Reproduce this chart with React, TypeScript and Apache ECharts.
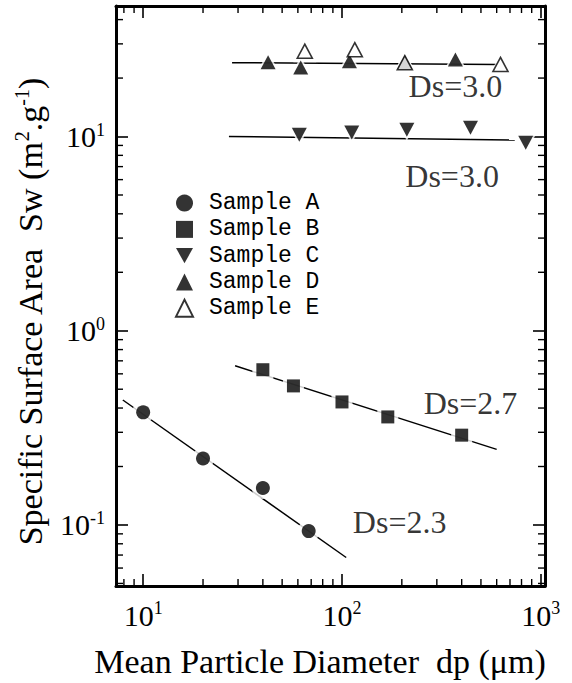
import React, { useEffect, useRef } from 'react';
import * as echarts from 'echarts';

// ---- axis extents (log axes) ----
const X_MIN = 7.3;
const X_MAX = 1050;
const Y_MIN = 0.0485;
const Y_MAX = 47;

// ---- measured points ----
const sampleAX = [10, 20, 40, 68];
const sampleAY = [0.38, 0.22, 0.155, 0.093];
const sampleBX = [40, 57, 100, 170, 400];
const sampleBY = [0.63, 0.52, 0.43, 0.36, 0.29];
const sampleCX = [61, 112, 212, 443, 840];
const sampleCY = [10.2, 10.5, 10.85, 11.1, 9.3];
const sampleDX = [42.5, 62, 109, 207, 372];
const sampleDY = [24.1, 22.7, 24.4, 24.1, 24.9];
const sampleEX = [65, 116, 207, 627];
const sampleEY = [27.5, 28, 24, 23.5];

// ---- fitted lines (end points) ----
const fitAX = [7.9, 105];
const fitAY = [0.44, 0.068];
const fitBX = [29, 600];
const fitBY = [0.66, 0.245];
const fitCX = [27, 740];
const fitCY = [10.0, 9.6];
const fitDX = [28, 600];
const fitDY = [24, 23.5];

// ---- annotations ----
const dsLabels = ['Ds=3.0', 'Ds=3.0', 'Ds=2.7', 'Ds=2.3'];
const dsX = [372, 358, 443, 195];
const dsY = [18.1, 6.3, 0.425, 0.1036];

// ---- legend names ----
const sampleNames = ['Sample A', 'Sample B', 'Sample C', 'Sample D', 'Sample E'];

// ---- titles ----
const xTitle = 'Mean Particle Diameter  dp (\u03bcm)';
const yTitleRich = '{n|Specific Surface Area  Sw (m}{s|2}{n|.g}{s|-1}{n|)}';

// ---- minor tick values ----
const xMinorTicks = [8, 9, 20, 30, 40, 50, 60, 70, 80, 90, 200, 300, 400, 500, 600, 700, 800, 900];
const yMinorTicks = [0.05, 0.06, 0.07, 0.08, 0.09, 0.2, 0.3, 0.4, 0.5, 0.6, 0.7, 0.8, 0.9, 2, 3, 4, 5, 6, 7, 8, 9, 20, 30, 40];

const SERIF = '"Liberation Serif", "Times New Roman", serif';
const MONO = '"Liberation Mono", "Courier New", monospace';
const DOWN_TRI = 'path://M0,0L20,0L10,18Z';

const zip = (xs: number[], ys: number[]) => xs.map((x, i) => [x, ys[i]]);

const powLabel = (v: number) => {
  const l = Math.log10(v);
  const e = Math.round(l);
  if (Math.abs(l - e) > 1e-6) return '';
  return `{b|10}{s|${e}}`;
};

const tickRich = {
  b: { fontSize: 30, fontFamily: SERIF, color: '#000', lineHeight: 32 },
  s: { fontSize: 18, fontFamily: SERIF, color: '#000', lineHeight: 21, verticalAlign: 'top' },
};

export default function App() {
  const ref = useRef<HTMLDivElement>(null);

  useEffect(() => {
    if (!ref.current) return;
    const chart = echarts.init(ref.current, undefined, { renderer: 'svg' });

    const axisLine = { show: true, lineStyle: { color: '#000', width: 3 } };
    const majorTick = { show: true, inside: true, length: 12, lineStyle: { color: '#000', width: 1.6 } };

    const lineSeries = (xs: number[], ys: number[]) => ({
      type: 'line',
      data: zip(xs, ys),
      symbol: 'none',
      lineStyle: { color: '#000', width: 1.5 },
      z: 2,
      silent: true,
    });

    const halo = (xs: number[], ys: number[], symbol: string, size: any) => ({
      type: 'scatter',
      data: zip(xs, ys),
      symbol,
      symbolSize: size,
      itemStyle: { color: '#fff' },
      z: 3,
      silent: true,
    });

    const marker = (name: string, xs: number[], ys: number[], symbol: string, size: any, itemStyle: any) => ({
      name,
      type: 'scatter',
      data: zip(xs, ys),
      symbol,
      symbolSize: size,
      itemStyle,
      z: 4,
    });

    const filled = { color: '#000' };
    const open = { color: '#fff', borderColor: '#000', borderWidth: 1.6 };

    const option: any = {
      animation: false,
      backgroundColor: '#fff',
      textStyle: { fontFamily: SERIF, color: '#000' },
      grid: { left: 116, right: 27, top: 6, bottom: 97 },
      xAxis: [
        {
          type: 'log', min: X_MIN, max: X_MAX, position: 'bottom',
          axisLine, axisTick: majorTick,
          axisLabel: { formatter: powLabel, rich: tickRich, margin: 13 },
          splitLine: { show: false },
        },
        {
          type: 'log', min: X_MIN, max: X_MAX, position: 'top',
          axisLine, axisTick: majorTick,
          axisLabel: { show: false },
          splitLine: { show: false },
        },
      ],
      yAxis: [
        {
          type: 'log', min: Y_MIN, max: Y_MAX, position: 'left',
          axisLine, axisTick: majorTick,
          axisLabel: { formatter: powLabel, rich: tickRich, margin: 11 },
          splitLine: { show: false },
        },
        {
          type: 'log', min: Y_MIN, max: Y_MAX, position: 'right',
          axisLine, axisTick: majorTick,
          axisLabel: { show: false },
          splitLine: { show: false },
        },
      ],
      legend: {
        orient: 'vertical',
        left: 170,
        top: 185,
        itemWidth: 17,
        itemHeight: 17,
        itemGap: 0,
        selectedMode: false,
        textStyle: { fontFamily: MONO, fontSize: 23, color: '#000', lineHeight: 26.25, padding: [0, 0, 0, 11] },
        data: sampleNames,
      },
      graphic: [
        {
          type: 'text',
          x: 320,
          y: 661,
          style: {
            text: xTitle,
            fontSize: 34,
            fontFamily: SERIF,
            fill: '#000',
            align: 'center',
            verticalAlign: 'middle',
          },
        },
        {
          type: 'text',
          x: 30,
          y: 312,
          rotation: Math.PI / 2,
          style: {
            text: yTitleRich,
            align: 'center',
            verticalAlign: 'middle',
            fill: '#000',
            rich: {
              n: { fontSize: 34, fontFamily: SERIF, fill: '#000', lineHeight: 36 },
              s: { fontSize: 20, fontFamily: SERIF, fill: '#000', lineHeight: 24, verticalAlign: 'top' },
            },
          },
        },
      ],
      series: [
        lineSeries(fitAX, fitAY),
        lineSeries(fitBX, fitBY),
        lineSeries(fitCX, fitCY),
        lineSeries(fitDX, fitDY),
        halo(sampleAX, sampleAY, 'circle', 22),
        halo(sampleBX, sampleBY, 'rect', 21),
        halo(sampleCX, sampleCY, DOWN_TRI, [23, 22]),
        halo(sampleDX, sampleDY, 'triangle', [23, 22]),
        halo(sampleEX, sampleEY, 'triangle', [23, 22]),
        marker(sampleNames[0], sampleAX, sampleAY, 'circle', 14, filled),
        marker(sampleNames[1], sampleBX, sampleBY, 'rect', 13, filled),
        marker(sampleNames[2], sampleCX, sampleCY, DOWN_TRI, [15, 14], filled),
        marker(sampleNames[3], sampleDX, sampleDY, 'triangle', [15, 14], filled),
        marker(sampleNames[4], sampleEX, sampleEY, 'triangle', [15, 14], open),
        {
          type: 'custom',
          silent: true,
          z: 5,
          data: xMinorTicks.map((v) => [v, Y_MIN]),
          renderItem: (_p: any, api: any) => {
            const v = api.value(0);
            const b = api.coord([v, Y_MIN]);
            const t = api.coord([v, Y_MAX]);
            const st = { stroke: '#000', lineWidth: 1.4 };
            return {
              type: 'group',
              children: [
                { type: 'line', shape: { x1: b[0], y1: b[1], x2: b[0], y2: b[1] - 7 }, style: st },
                { type: 'line', shape: { x1: t[0], y1: t[1], x2: t[0], y2: t[1] + 7 }, style: st },
              ],
            };
          },
        },
        {
          type: 'custom',
          silent: true,
          z: 5,
          data: yMinorTicks.map((v) => [X_MIN, v]),
          renderItem: (_p: any, api: any) => {
            const v = api.value(1);
            const l = api.coord([X_MIN, v]);
            const r = api.coord([X_MAX, v]);
            const st = { stroke: '#000', lineWidth: 1.4 };
            return {
              type: 'group',
              children: [
                { type: 'line', shape: { x1: l[0], y1: l[1], x2: l[0] + 7, y2: l[1] }, style: st },
                { type: 'line', shape: { x1: r[0], y1: r[1], x2: r[0] - 7, y2: r[1] }, style: st },
              ],
            };
          },
        },
        {
          type: 'scatter',
          silent: true,
          z: 6,
          symbolSize: 0,
          data: dsLabels.map((t, i) => [dsX[i], dsY[i], t]),
          label: {
            show: true,
            position: 'inside',
            formatter: (p: any) => p.data[2],
            fontFamily: SERIF,
            fontSize: 32,
            color: '#000',
          },
        },
      ],
    };

    chart.setOption(option);
    return () => chart.dispose();
  }, []);

  return (
    <div
      ref={ref}
      style={{ position: 'fixed', left: 0, top: 0, width: 572, height: 683, background: '#fff' }}
    />
  );
}
